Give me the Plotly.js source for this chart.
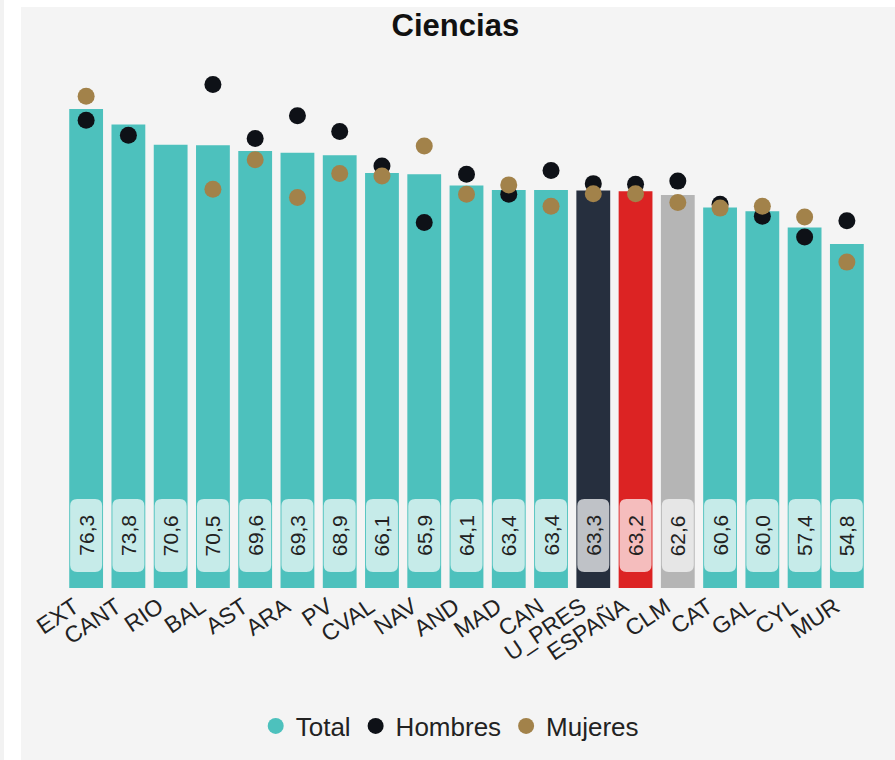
<!DOCTYPE html>
<html>
<head>
<meta charset="utf-8">
<script src="https://cdn.plot.ly/plotly-3.0.1.min.js"></script>
<style>
  html, body { margin: 0; padding: 0; background: #ffffff; width: 895px; height: 760px; overflow: hidden; }
  #strip { position: absolute; left: 0; top: 0; width: 4px; height: 760px; background: #f2f2f2; }
  #chart { position: absolute; left: 21px; top: 7px; width: 874px; height: 753px; }
</style>
</head>
<body>
<div id="strip"></div>
<div id="chart"></div>
<script>
const categories = ["EXT","CANT","RIO","BAL","AST","ARA","PV","CVAL","NAV","AND","MAD","CAN","U_PRES","ESPAÑA","CLM","CAT","GAL","CYL","MUR"];
const total   = [76.3,73.8,70.6,70.5,69.6,69.3,68.9,66.1,65.9,64.1,63.4,63.4,63.3,63.2,62.6,60.6,60.0,57.4,54.8];
const hombres = [74.5,72.1,null,80.2,71.6,75.2,72.7,67.2,58.2,65.9,62.7,66.5,64.4,64.3,64.8,61.1,59.2,55.9,58.5];
const mujeres = [78.3,null,null,63.5,68.2,62.2,66.0,65.6,70.4,62.7,64.2,60.8,62.8,62.8,61.4,60.5,60.8,59.1,51.9];

const TEAL = "#4dc1bd", DARK = "#262f3e", RED = "#dc2323", GREY = "#b5b5b5";
const specialBar = { "U_PRES": DARK, "ESPAÑA": RED, "CLM": GREY };
const specialBox = { "U_PRES": "#bfc2c7", "ESPAÑA": "#f5bdbd", "CLM": "#e6e6e6" };
const barColors = categories.map(c => specialBar[c] || TEAL);
const boxColors = categories.map(c => specialBox[c] || "#c6ebe9");

const FONT = '"Liberation Sans", Arial, sans-serif';
const mTop = 41, mBot = 172, H = 753;
const yMax = 86;
const pxPerUnit = (H - mTop - mBot) / yMax;
const labelCenterPx = 52.5;
const labelCenterVal = labelCenterPx / pxPerUnit;

function roundRect(hw, hh, r) {
  const x0 = -hw, x1 = hw, y0 = -hh, y1 = hh;
  return `M ${x0 + r},${y0} L ${x1 - r},${y0} Q ${x1},${y0} ${x1},${y0 + r} ` +
         `L ${x1},${y1 - r} Q ${x1},${y1} ${x1 - r},${y1} L ${x0 + r},${y1} ` +
         `Q ${x0},${y1} ${x0},${y1 - r} L ${x0},${y0 + r} Q ${x0},${y0} ${x0 + r},${y0} Z`;
}

const shapes = categories.map((c, i) => ({
  type: "path", xref: "x", yref: "y",
  xsizemode: "pixel", ysizemode: "pixel",
  xanchor: i, yanchor: labelCenterVal,
  path: roundRect(16, 36.5, 7),
  fillcolor: boxColors[i], line: { width: 0 }, layer: "above"
}));

const annotations = categories.map((c, i) => ({
  x: i, y: labelCenterVal, xref: "x", yref: "y",
  text: total[i].toFixed(1).replace(".", ","),
  showarrow: false, textangle: -90,
  font: { family: FONT, size: 21, color: "#222222" },
  xanchor: "center", yanchor: "middle"
}));

const traces = [
  {
    type: "bar", x: categories, y: total, marker: { color: barColors },
    showlegend: false, hoverinfo: "skip"
  },
  {
    type: "scatter", mode: "markers", name: "Total", x: [categories[0]], y: [null],
    marker: { color: TEAL, size: 17 }, hoverinfo: "skip"
  },
  {
    type: "scatter", mode: "markers", name: "Hombres", x: categories, y: hombres,
    marker: { color: "#0e1117", size: 17 }, hoverinfo: "skip"
  },
  {
    type: "scatter", mode: "markers", name: "Mujeres", x: categories, y: mujeres,
    marker: { color: "#a2824a", size: 17 }, hoverinfo: "skip"
  }
];

const layout = {
  width: 874, height: H,
  margin: { l: 44, r: 27, t: mTop, b: mBot },
  paper_bgcolor: "#f4f4f4", plot_bgcolor: "#f4f4f4",
  font: { family: FONT, color: "#222222" },
  title: {
    text: "<b>Ciencias</b>", x: 0.497, xref: "container", y: 1 - 18 / H, yref: "container",
    yanchor: "middle", font: { family: FONT, size: 31, color: "#111111" }
  },
  bargap: 0.2,
  xaxis: {
    type: "category", range: [-0.5, categories.length - 0.5], autorange: false,
    tickangle: -34, ticklabelshift: -12, ticks: "", showgrid: false, zeroline: false,
    showline: false, automargin: false,
    tickfont: { family: FONT, size: 23, color: "#222222" }
  },
  yaxis: {
    range: [0, yMax], autorange: false, showgrid: false, zeroline: false, showline: false,
    showticklabels: false, ticks: "", automargin: false
  },
  legend: {
    orientation: "h", xref: "container", yref: "container",
    x: 0.4905, xanchor: "center", y: 1 - 719 / H, yanchor: "middle",
    font: { family: FONT, size: 26, color: "#222222" },
    bgcolor: "rgba(0,0,0,0)", itemclick: false, itemdoubleclick: false
  },
  shapes: shapes,
  annotations: annotations,
  hovermode: false
};

Plotly.newPlot("chart", traces, layout, { displayModeBar: false, staticPlot: true });
</script>
</body>
</html>
